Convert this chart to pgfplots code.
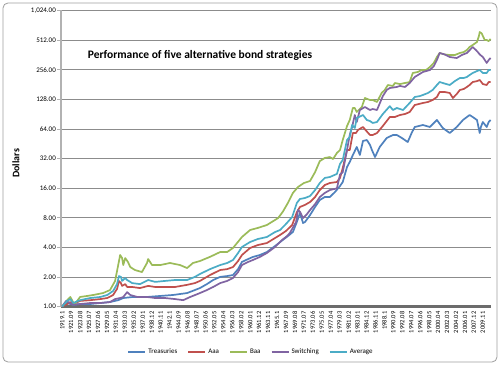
\documentclass[border=0pt]{standalone}
\usepackage{pgfplots}
\pgfplotsset{compat=1.18}
\usepackage{pgfplotstable}
\usepackage{fontspec}
\setmainfont{Carlito}
\definecolor{cTre}{HTML}{4F81BD}
\definecolor{cAaa}{HTML}{C0504D}
\definecolor{cBaa}{HTML}{9BBB59}
\definecolor{cSw}{HTML}{8064A2}
\definecolor{cAvg}{HTML}{4BACC6}
\definecolor{gridc}{HTML}{8C8C8C}

\pgfplotstableread{
m v
0 1.00
13 1.085
28 1.04
46 1.06
72 1.06
98 1.085
123 1.11
144 1.16
157 1.22
182 1.25
218 1.25
252 1.28
285 1.31
321 1.37
341 1.47
354 1.54
372 1.69
388 1.86
406 2.00
424 2.04
439 2.09
452 2.40
462 2.84
478 3.04
490 3.19
508 3.34
526 3.58
547 4.12
567 4.75
580 5.2
593 5.73
603 7.23
611 8.93
619 7.07
624 7.23
637 8.52
650 10.3
662 12.11
675 13.0
688 12.99
701 14.6
714 16.8
721 18.46
732 26.22
739 29.5
747 34.7
757 41.90
765 34.74
773 48.2
783 49.35
791 44.0
796 39.05
804 33.14
816 41.90
824 46.01
834 51.72
850 55.48
860 55.5
873 51.72
888 47.09
898 58.1
906 66.91
927 70.12
945 66.91
963 78.84
978 65.36
996 58.13
1014 66.91
1030 78.84
1047 88.63
1055 84.57
1066 78.8
1073 58.13
1076 66.9
1081 75.23
1091 66.91
1096 75.2
1101 78.84
}\tre

\pgfplotstableread{
m v
0 1.00
13 1.06
21 1.11
28 1.06
46 1.14
72 1.16
98 1.19
116 1.22
131 1.31
141 1.51
146 1.82
151 1.73
154 1.62
162 1.69
167 1.58
180 1.58
200 1.54
221 1.62
239 1.58
264 1.58
290 1.58
321 1.66
341 1.73
354 1.82
380 2.09
406 2.35
424 2.40
439 2.52
452 2.90
462 3.34
483 3.94
503 4.22
526 4.42
547 4.97
560 5.34
575 5.86
591 6.74
603 9.1
611 10.28
624 10.8
637 11.55
650 13.0
662 15.30
675 17.21
688 18.03
706 18.46
714 20.3
721 25.6
732 39.05
739 39
747 58.13
755 58.1
760 62.35
773 66.91
783 60.2
791 55.48
798 55.5
809 58.13
824 68.5
842 84.57
855 84.6
868 88.63
881 90.7
893 95.08
906 112.0
927 117.4
940 120.2
952 125.9
963 135.1
970 151.9
983 151.9
996 148.4
1004 132.0
1014 145
1022 159.2
1032 163
1040 170.8
1047 178.9
1055 191.9
1066 196
1073 201.1
1081 183
1091 178.9
1096 191.9
1101 191.9
}\aaa

\pgfplotstableread{
m v
0 1.00
13 1.16
21 1.25
28 1.11
33 1.06
46 1.25
64 1.28
80 1.31
105 1.37
123 1.47
136 1.82
144 2.64
149 3.34
154 3.11
157 2.64
162 3.11
169 2.84
175 2.52
187 2.35
205 2.24
218 2.77
221 3.04
231 2.64
252 2.64
277 2.77
303 2.64
321 2.46
336 2.77
354 2.90
380 3.2
406 3.58
424 3.58
439 3.94
462 5.09
483 6.00
503 6.3
526 6.74
555 7.94
567 9.2
580 11.29
593 14.3
606 16.42
621 18.0
637 18.9
650 23.3
662 30.1
675 32.4
688 33.1
696 31.6
706 36.4
714 39.05
721 49.35
732 68.5
739 78.8
747 104.4
752 104.4
757 95.1
770 106.9
778 132.0
791 125.9
798 125.9
809 120.2
821 148.4
829 159.2
837 178.9
850 174.8
855 187.5
868 183
881 187.5
893 191.9
901 237.0
914 242.6
924 254.2
935 254
945 272.7
955 300
963 344.6
970 378.5
983 366
996 361.2
1009 361
1022 378.5
1032 387.5
1040 406.1
1047 435.6
1055 456.4
1066 489.7
1071 564
1073 618.8
1078 600
1081 564
1086 513
1091 513
1096 500
1101 525
}\baa

\pgfplotstableread{
m v
0 1.00
10 1.14
15 1.11
28 1.04
46 1.06
72 1.085
98 1.085
123 1.11
136 1.19
149 1.22
157 1.25
167 1.40
175 1.31
193 1.25
218 1.25
239 1.22
264 1.22
290 1.19
311 1.16
329 1.25
354 1.37
372 1.47
388 1.58
406 1.73
424 1.82
439 1.95
452 2.24
462 2.64
478 2.84
490 2.97
508 3.19
526 3.50
547 4.03
565 4.75
578 5.2
585 5.59
601 7.23
606 9.58
611 9.2
619 7.94
629 8.7
637 9.58
650 11.0
662 12.99
675 14.3
688 15.30
706 15.9
714 22.0
721 23.2
732 39.05
739 55.5
745 66.9
752 88.6
757 75.2
765 99.65
778 106.9
791 99.65
798 102
809 99.65
824 138
834 159.2
842 166.8
860 170.8
868 175
881 170.8
893 187.5
906 215.8
919 232
927 242.6
945 254.2
955 278
963 321.3
970 378.5
983 366
996 344.6
1014 336.6
1027 361
1040 378.5
1055 435.6
1063 406
1068 387.5
1073 366
1081 344.6
1091 300
1096 321
1101 336.6
}\swi

\pgfplotstableread{
m v
0 1.00
13 1.14
21 1.19
28 1.085
46 1.16
72 1.22
98 1.25
116 1.31
131 1.44
141 1.69
146 2.04
151 2.00
154 1.82
162 1.95
167 1.86
180 1.73
200 1.69
221 1.86
239 1.78
264 1.82
290 1.86
321 1.86
341 2.00
354 2.14
380 2.40
406 2.64
424 2.77
439 2.97
452 3.50
462 4.03
483 4.53
503 4.86
526 5.09
547 5.72
560 6.00
575 6.9
591 8.13
603 11.29
611 12.4
624 12.69
637 13.3
650 15.3
662 18.03
675 20.3
688 20.75
706 22.3
714 28.2
721 30.89
732 49.35
739 52.95
745 70.1
752 65.4
757 82.6
773 88.6
783 78.8
791 77.0
798 73.5
809 75.2
824 90.7
842 109
850 99.65
860 104.4
876 99.65
888 112.0
893 117.4
906 135.1
919 138
927 141.6
940 148.4
952 159.2
963 178.9
970 191.9
983 185
996 178.9
1009 196
1022 210.8
1032 210.8
1040 215.8
1047 226
1055 237.0
1066 248
1073 254.2
1081 237
1091 237
1096 254
1101 254.2
}\avg

\begin{document}
\begin{tikzpicture}[x=1pt,y=1pt]
\path[use as bounding box, fill=white] (0,0) rectangle (500,365);
\draw[gray!75, rounded corners=5pt, line width=0.8pt] (3,3) rectangle (497,362);
\begin{axis}[
  at={(61pt,58.5pt)}, anchor=south west,
  scale only axis, width=430pt, height=296pt,
  ymode=log, log basis y=2,
  xmin=-3, xmax=1102, ymin=1, ymax=1024,
  axis x line*=bottom, axis y line*=left,
  x axis line style={-, draw=gray!85!black, line width=2.6pt},
  y axis line style={-, draw=gray!60, line width=1.4pt},
  ytick={1,2,4,8,16,32,64,128,256,512,1024},
  yticklabels={1.00,2.00,4.00,8.00,16.00,32.00,64.00,128.00,256.00,512.00,{1,024.00}},
  xtick={0,23,...,1081},
  xticklabels={1919.1,1921.09,1923.08,1925.07,1927.06,1929.05,1931.04,1933.03,1935.02,1937.01,1938.12,1940.11,1942.1,1944.09,1946.08,1948.07,1950.06,1952.05,1954.04,1956.03,1958.02,1960.01,1961.12,1963.11,1965.1,1967.09,1969.08,1971.07,1973.06,1975.05,1977.04,1979.03,1981.02,1983.01,1984.12,1986.11,1988.1,1990.09,1992.08,1994.07,1996.06,1998.05,2000.04,2002.03,2004.02,2006.01,2007.12,2009.11},
  xticklabel style={rotate=90, anchor=east, font=\fontsize{6.5}{7}\selectfont, xshift=0pt, yshift=0pt, inner sep=1pt},
  yticklabel style={font=\fontsize{7}{8}\selectfont, inner sep=1pt},
  x tick style={draw=none},
  y tick style={draw=gray!60, line width=0.6pt},
  tick align=outside, major tick length=4pt,
  ymajorgrids, grid style={draw=gridc, line width=0.7pt},
  ylabel={\textbf{Dollars}}, ylabel style={font=\fontsize{6.5}{7}\selectfont},
  every axis y label/.style={at={(-45pt,0.484)}, rotate=90, anchor=center},
  legend columns=5,
  legend style={at={(0.442,-0.154)}, anchor=center, draw=none, fill=none,
    font=\fontsize{7}{8}\selectfont, /tikz/every even column/.append style={column sep=8pt}},
  legend image code/.code={\draw[#1, line width=2pt] (0pt,0pt) -- (17pt,0pt);},
  line join=round,
]
\addplot[cTre, line width=1.7pt] table[x=m,y=v] {\tre};
\addlegendentry{Treasuries}
\addplot[cAaa, line width=1.7pt] table[x=m,y=v] {\aaa};
\addlegendentry{Aaa}
\addplot[cBaa, line width=1.7pt] table[x=m,y=v] {\baa};
\addlegendentry{Baa}
\addplot[cSw, line width=1.7pt] table[x=m,y=v] {\swi};
\addlegendentry{Switching}
\addplot[cAvg, line width=1.7pt] table[x=m,y=v] {\avg};
\addlegendentry{Average}
\end{axis}
\node[font=\bfseries\fontsize{11.5}{13}\selectfont] at (200,310) {Performance of five alternative bond strategies};
\end{tikzpicture}
\end{document}
